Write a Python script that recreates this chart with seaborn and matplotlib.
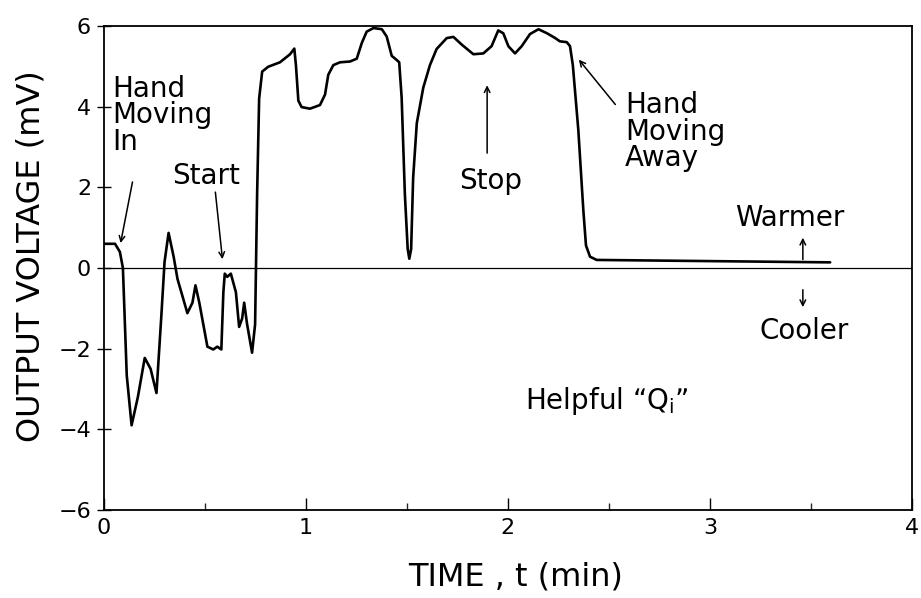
import numpy as np
import pandas as pd
import matplotlib
matplotlib.use("Agg")
import matplotlib.pyplot as plt
import seaborn as sns

# ---- data ----
t_min = [0.0, 0.057, 0.081, 0.096, 0.115, 0.139, 0.17, 0.204, 0.233, 0.262,
         0.286, 0.302, 0.322, 0.347, 0.366, 0.415, 0.44, 0.455, 0.474, 0.514,
         0.543, 0.563, 0.583, 0.593, 0.6, 0.612, 0.63, 0.655, 0.671, 0.686,
         0.696, 0.71, 0.735, 0.75, 0.76, 0.77, 0.785, 0.815, 0.873, 0.923,
         0.944, 0.952, 0.964, 0.98, 1.021, 1.071, 1.096, 1.112, 1.137, 1.17,
         1.22, 1.253, 1.278, 1.302, 1.336, 1.377, 1.401, 1.426, 1.45, 1.463,
         1.475, 1.491, 1.505, 1.513, 1.522, 1.532, 1.55, 1.582, 1.615, 1.648,
         1.698, 1.731, 1.772, 1.83, 1.879, 1.92, 1.953, 1.978, 2.003, 2.036,
         2.069, 2.11, 2.152, 2.194, 2.235, 2.258, 2.292, 2.308, 2.322, 2.349,
         2.374, 2.387, 2.407, 2.44, 3.595]
voltage_mv = [0.6, 0.6, 0.4, 0.0, -2.66, -3.9, -3.2, -2.23, -2.5, -3.1,
              -1.2, 0.15, 0.87, 0.28, -0.27, -1.12, -0.86, -0.43, -0.86, -1.95,
              -2.02, -1.95, -2.02, -0.6, -0.14, -0.22, -0.14, -0.6, -1.46, -1.25,
              -0.86, -1.38, -2.1, -1.4, 1.83, 4.2, 4.87, 4.99, 5.1, 5.3,
              5.44, 5.03, 4.15, 3.99, 3.95, 4.04, 4.3, 4.79, 5.03, 5.1,
              5.12, 5.19, 5.58, 5.86, 5.95, 5.92, 5.74, 5.26, 5.16, 5.1,
              4.23, 1.83, 0.47, 0.23, 0.47, 2.24, 3.59, 4.47, 5.03, 5.43,
              5.7, 5.73, 5.54, 5.3, 5.32, 5.5, 5.89, 5.82, 5.5, 5.32,
              5.5, 5.8, 5.92, 5.82, 5.7, 5.62, 5.6, 5.5, 5.03, 3.43,
              1.43, 0.56, 0.28, 0.2, 0.14]

x_ticks = [0, 1, 2, 3, 4]
y_ticks = [-6, -4, -2, 0, 2, 4, 6]
x_label = "TIME , t (min)"
y_label = "OUTPUT VOLTAGE (mV)"

df = pd.DataFrame({"t": t_min, "v": voltage_mv})

sns.set_theme(style="white")
plt.rcParams["font.family"] = ["DejaVu Sans"]
plt.rcParams["text.color"] = "black"

fig = plt.figure(figsize=(9.21, 5.98), dpi=100)
ax = fig.add_axes([103.5 / 921, 1 - 510 / 598, (912 - 103.5) / 921, (510 - 26) / 598])

sns.lineplot(data=df, x="t", y="v", ax=ax, color="black", linewidth=1.9,
             estimator=None, sort=False)
ax.axhline(0, color="black", linewidth=0.9)

ax.set_xlim(0, 4)
ax.set_ylim(-6, 6)
ax.set_xticks(x_ticks)
ax.set_xticklabels([str(v) for v in x_ticks])
ax.set_xticks([0.5, 1.5, 2.5, 3.5], minor=True)
ax.set_yticks(y_ticks)
ax.set_yticklabels([f"\u2212{abs(v)}" if v < 0 else str(v) for v in y_ticks])
ax.tick_params(axis="x", which="major", direction="in", length=9, width=1,
               labelsize=16, pad=6, colors="black", bottom=True)
ax.tick_params(axis="x", which="minor", direction="in", length=5, width=1,
               bottom=True)
ax.tick_params(axis="y", which="major", direction="inout", length=10, width=1,
               labelsize=16, pad=4, colors="black", left=True)
for s in ax.spines.values():
    s.set_color("black")
    s.set_linewidth(1.3)
ax.set_xlabel("")
ax.set_ylabel("")

fig.text(516 / 921, 1 - 577 / 598, x_label, ha="center", va="center",
         fontsize=23, color="black")
fig.text(31 / 921, 1 - 256 / 598, y_label, ha="center", va="center",
         rotation=90, fontsize=23, color="black")

akw = dict(arrowstyle="->", color="black", lw=1.1, mutation_scale=10)
fs = 20
tk = dict(fontsize=fs, color="black")

ax.text(0.042, 4.78, "Hand\nMoving\nIn", ha="left", va="top",
        linespacing=0.92, **tk)
ax.annotate("", xy=(0.082, 0.55), xytext=(0.146, 2.2), arrowprops=akw)

ax.text(0.339, 2.27, "Start", ha="left", va="center", **tk)
ax.annotate("", xy=(0.59, 0.15), xytext=(0.552, 1.95), arrowprops=akw)

ax.text(1.913, 2.15, "Stop", ha="center", va="center", **tk)
ax.annotate("", xy=(1.898, 4.6), xytext=(1.898, 2.78), arrowprops=akw)

ax.text(2.58, 4.38, "Hand\nMoving\nAway", ha="left", va="top",
        linespacing=0.92, **tk)
ax.annotate("", xy=(2.343, 5.22), xytext=(2.541, 4.0), arrowprops=akw)

ax.text(3.394, 1.25, "Warmer", ha="center", va="center", **tk)
ax.annotate("", xy=(3.46, 0.82), xytext=(3.46, 0.14), arrowprops=akw)
ax.text(3.466, -1.55, "Cooler", ha="center", va="center", **tk)
ax.annotate("", xy=(3.46, -1.04), xytext=(3.46, -0.47), arrowprops=akw)

ax.text(2.49, -3.3, "Helpful \u201cQ$_\\mathrm{i}$\u201d", ha="center",
        va="center", **tk)

fig.savefig("out.png", dpi=100)
